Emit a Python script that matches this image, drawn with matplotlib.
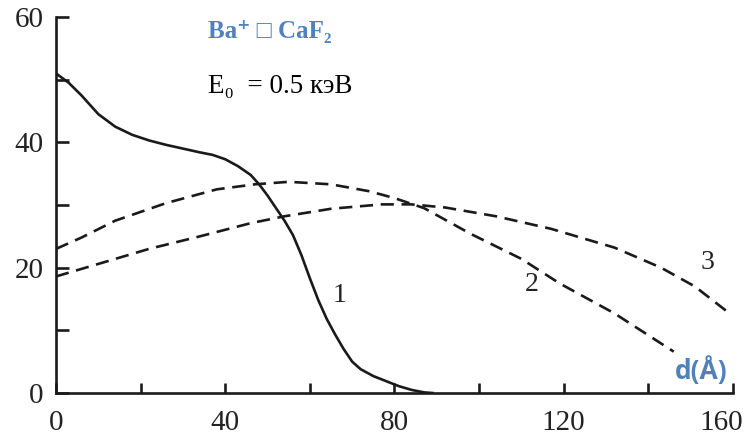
import numpy as np
import matplotlib
matplotlib.use("Agg")
import matplotlib.pyplot as plt
import matplotlib.transforms as mtransforms
from matplotlib.ticker import MultipleLocator

# значения, считанные с рисунка
# кривая 1 (сплошная)
x1 = [0, 3, 6, 10, 14, 18, 22, 26, 30, 34, 37, 40, 43, 46, 48, 50, 52, 54,
      56, 58, 60, 62, 64, 66, 68, 70, 72, 75, 78, 81, 84, 87, 89]
y1 = [51.0, 49.5, 47.5, 44.5, 42.5, 41.2, 40.3, 39.6, 39.0, 38.4, 38.0, 37.3,
      36.2, 34.8, 33.3, 31.5, 29.5, 27.5, 25.2, 22.0, 18.3, 14.8, 11.8, 9.3,
      7.0, 5.0, 3.8, 2.7, 1.9, 1.1, 0.5, 0.1, 0.0]

# кривая 2 (штриховая)
x2 = [0, 6, 14, 26, 38, 47, 55, 65, 74, 80, 87, 98, 110, 119, 132, 146]
y2 = [23.0, 24.8, 27.5, 30.3, 32.5, 33.3, 33.7, 33.3, 32.2, 31.1, 29.5,
      25.4, 21.4, 17.5, 12.7, 6.6]

# кривая 3 (штриховая)
x3 = [0, 10, 22, 34, 46, 54, 65, 77, 84, 92, 104, 117, 132, 143, 151, 159]
y3 = [18.6, 20.6, 23.0, 25.0, 27.1, 28.2, 29.4, 30.1, 30.1, 29.6, 28.2,
      26.2, 23.2, 20.0, 17.0, 12.8]

curve_labels = ['1', '2', '3']
label_x = [67, 112.5, 154]
label_y = [15.5, 17.3, 20.8]

x_ticks = [0, 40, 80, 120, 160]
y_ticks = [0, 20, 40, 60]

plt.rcParams['lines.scale_dashes'] = False
serif = ['Liberation Serif', 'DejaVu Serif', 'DejaVu Sans']
blue = '#4f81bd'
ink = '#1a1a1a'

fig = plt.figure(figsize=(7.49, 4.36), dpi=100)
ax = fig.add_axes([0.0748, 0.0986, 0.9038, 0.8624])

ax.plot(x1, y1, color=ink, lw=1.9)
ax.plot(x2, y2, color=ink, lw=1.9, dashes=(9.5, 5.5))
ax.plot(x3, y3, color=ink, lw=1.9, dashes=(9.5, 5.5))

for t, tx, ty in zip(curve_labels, label_x, label_y):
    ax.text(tx, ty, t, fontsize=20, family=serif, color='#222222',
            ha='center', va='center')

ax.set_xlim(0, 160)
ax.set_ylim(0, 60)
ax.set_xticks(x_ticks)
ax.set_yticks(y_ticks)
ax.xaxis.set_minor_locator(MultipleLocator(20))
ax.yaxis.set_minor_locator(MultipleLocator(10))

for s in ['top', 'right']:
    ax.spines[s].set_visible(False)
for s in ['left', 'bottom']:
    ax.spines[s].set_linewidth(1.9)
    ax.spines[s].set_color(ink)

ax.tick_params(axis='x', which='both', direction='in', length=7.5, width=1.9,
               pad=12, labelsize=21, colors=ink)
ax.tick_params(axis='y', which='both', direction='in', length=9, width=1.9,
               pad=9, labelsize=21, colors=ink)
for lab in ax.get_xticklabels() + ax.get_yticklabels():
    lab.set_family(serif)
    lab.set_color('#222222')

# подпись 160 сдвинута влево, как на оригинале
last = ax.get_xticklabels()[-1]
last.set_transform(last.get_transform() +
                   mtransforms.ScaledTranslation(-12 / 100, 0, fig.dpi_scale_trans))

ax.text(36, 56.6, 'Ba\u207a \u25a1 CaF\u2082', fontsize=18, fontweight='bold',
        family=serif, color=blue, ha='left', va='baseline')
ax.text(36, 47.8, 'E\u2080  = 0.5 кэВ', fontsize=19.5, family=serif,
        color='black', ha='left', va='baseline')
ax.text(146.3, 2.3, 'd(Å)', fontsize=19, fontweight='bold',
        family=['Open Sans', 'DejaVu Sans'], color=blue, ha='left',
        va='baseline')

ax.patch.set_visible(False)
fig.savefig('out.png', dpi=100)
plt.close(fig)
